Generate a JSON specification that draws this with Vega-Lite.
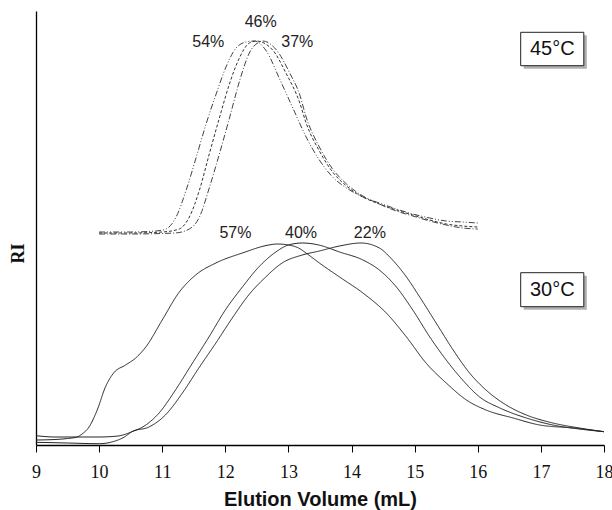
{
  "$schema": "https://vega.github.io/schema/vega-lite/v6.json",
  "width": 568,
  "height": 434,
  "autosize": "none",
  "padding": {"left": 36, "top": 11, "right": 8, "bottom": 65},
  "background": "white",
  "config": {"view": {"stroke": null}},
  "datasets": {
    "curves": [
      {"series": "30°C 57%", "ml": 9.0, "ri": 5},
      {"series": "30°C 57%", "ml": 9.3, "ri": 5.5},
      {"series": "30°C 57%", "ml": 9.5, "ri": 6.5},
      {"series": "30°C 57%", "ml": 9.65, "ri": 8},
      {"series": "30°C 57%", "ml": 9.73, "ri": 11},
      {"series": "30°C 57%", "ml": 9.84, "ri": 18},
      {"series": "30°C 57%", "ml": 9.97, "ri": 35},
      {"series": "30°C 57%", "ml": 10.1, "ri": 58},
      {"series": "30°C 57%", "ml": 10.23, "ri": 72},
      {"series": "30°C 57%", "ml": 10.42, "ri": 80},
      {"series": "30°C 57%", "ml": 10.58, "ri": 87},
      {"series": "30°C 57%", "ml": 10.74, "ri": 98},
      {"series": "30°C 57%", "ml": 11.0, "ri": 125},
      {"series": "30°C 57%", "ml": 11.26, "ri": 152},
      {"series": "30°C 57%", "ml": 11.53, "ri": 170},
      {"series": "30°C 57%", "ml": 11.85, "ri": 182},
      {"series": "30°C 57%", "ml": 12.27, "ri": 192},
      {"series": "30°C 57%", "ml": 12.69, "ri": 200},
      {"series": "30°C 57%", "ml": 12.82, "ri": 201},
      {"series": "30°C 57%", "ml": 13.0, "ri": 200},
      {"series": "30°C 57%", "ml": 13.16, "ri": 197},
      {"series": "30°C 57%", "ml": 13.3, "ri": 191},
      {"series": "30°C 57%", "ml": 13.49, "ri": 182},
      {"series": "30°C 57%", "ml": 13.81, "ri": 168},
      {"series": "30°C 57%", "ml": 14.18, "ri": 152},
      {"series": "30°C 57%", "ml": 14.55, "ri": 132},
      {"series": "30°C 57%", "ml": 14.87, "ri": 108},
      {"series": "30°C 57%", "ml": 15.18, "ri": 82},
      {"series": "30°C 57%", "ml": 15.5, "ri": 62},
      {"series": "30°C 57%", "ml": 15.82, "ri": 45},
      {"series": "30°C 57%", "ml": 16.13, "ri": 35},
      {"series": "30°C 57%", "ml": 16.56, "ri": 27},
      {"series": "30°C 57%", "ml": 16.98, "ri": 20},
      {"series": "30°C 57%", "ml": 17.51, "ri": 17},
      {"series": "30°C 57%", "ml": 18.0, "ri": 13.3},

      {"series": "30°C 40%", "ml": 9.0, "ri": 9.3},
      {"series": "30°C 40%", "ml": 9.3, "ri": 8},
      {"series": "30°C 40%", "ml": 10.0, "ri": 8},
      {"series": "30°C 40%", "ml": 10.3, "ri": 9},
      {"series": "30°C 40%", "ml": 10.52, "ri": 13.3},
      {"series": "30°C 40%", "ml": 10.74, "ri": 20},
      {"series": "30°C 40%", "ml": 10.95, "ri": 32},
      {"series": "30°C 40%", "ml": 11.21, "ri": 55},
      {"series": "30°C 40%", "ml": 11.48, "ri": 82},
      {"series": "30°C 40%", "ml": 11.74, "ri": 108},
      {"series": "30°C 40%", "ml": 12.0, "ri": 135},
      {"series": "30°C 40%", "ml": 12.27, "ri": 158},
      {"series": "30°C 40%", "ml": 12.53, "ri": 178},
      {"series": "30°C 40%", "ml": 12.8, "ri": 193},
      {"series": "30°C 40%", "ml": 13.0, "ri": 200},
      {"series": "30°C 40%", "ml": 13.22, "ri": 202},
      {"series": "30°C 40%", "ml": 13.48, "ri": 200},
      {"series": "30°C 40%", "ml": 13.81, "ri": 193},
      {"series": "30°C 40%", "ml": 14.18, "ri": 185},
      {"series": "30°C 40%", "ml": 14.44, "ri": 175},
      {"series": "30°C 40%", "ml": 14.71, "ri": 158},
      {"series": "30°C 40%", "ml": 14.97, "ri": 135},
      {"series": "30°C 40%", "ml": 15.24, "ri": 108},
      {"series": "30°C 40%", "ml": 15.5, "ri": 85},
      {"series": "30°C 40%", "ml": 15.76, "ri": 65},
      {"series": "30°C 40%", "ml": 16.03, "ri": 48},
      {"series": "30°C 40%", "ml": 16.35, "ri": 37},
      {"series": "30°C 40%", "ml": 16.77, "ri": 27},
      {"series": "30°C 40%", "ml": 17.19, "ri": 20},
      {"series": "30°C 40%", "ml": 17.61, "ri": 16},
      {"series": "30°C 40%", "ml": 18.0, "ri": 13.3},

      {"series": "30°C 22%", "ml": 9.0, "ri": 2.7},
      {"series": "30°C 22%", "ml": 9.5, "ri": 2},
      {"series": "30°C 22%", "ml": 10.0, "ri": 1.3},
      {"series": "30°C 22%", "ml": 10.2, "ri": 3},
      {"series": "30°C 22%", "ml": 10.4, "ri": 8},
      {"series": "30°C 22%", "ml": 10.52, "ri": 13.3},
      {"series": "30°C 22%", "ml": 10.79, "ri": 18},
      {"series": "30°C 22%", "ml": 11.05, "ri": 30},
      {"series": "30°C 22%", "ml": 11.32, "ri": 52},
      {"series": "30°C 22%", "ml": 11.58, "ri": 77},
      {"series": "30°C 22%", "ml": 11.85, "ri": 102},
      {"series": "30°C 22%", "ml": 12.11, "ri": 127},
      {"series": "30°C 22%", "ml": 12.37, "ri": 150},
      {"series": "30°C 22%", "ml": 12.64, "ri": 168},
      {"series": "30°C 22%", "ml": 12.9, "ri": 182},
      {"series": "30°C 22%", "ml": 13.22, "ri": 190},
      {"series": "30°C 22%", "ml": 13.49, "ri": 194},
      {"series": "30°C 22%", "ml": 13.81, "ri": 199},
      {"series": "30°C 22%", "ml": 14.15, "ri": 202},
      {"series": "30°C 22%", "ml": 14.44, "ri": 197},
      {"series": "30°C 22%", "ml": 14.65, "ri": 185},
      {"series": "30°C 22%", "ml": 14.87, "ri": 168},
      {"series": "30°C 22%", "ml": 15.08, "ri": 148},
      {"series": "30°C 22%", "ml": 15.34, "ri": 122},
      {"series": "30°C 22%", "ml": 15.61, "ri": 95},
      {"series": "30°C 22%", "ml": 15.87, "ri": 72},
      {"series": "30°C 22%", "ml": 16.13, "ri": 55},
      {"series": "30°C 22%", "ml": 16.45, "ri": 40},
      {"series": "30°C 22%", "ml": 16.77, "ri": 30},
      {"series": "30°C 22%", "ml": 17.19, "ri": 22},
      {"series": "30°C 22%", "ml": 17.61, "ri": 17},
      {"series": "30°C 22%", "ml": 18.0, "ri": 13.3},

      {"series": "45°C 54%", "ml": 10.0, "ri": 213},
      {"series": "45°C 54%", "ml": 10.5, "ri": 213},
      {"series": "45°C 54%", "ml": 10.9, "ri": 214},
      {"series": "45°C 54%", "ml": 11.06, "ri": 216},
      {"series": "45°C 54%", "ml": 11.22, "ri": 228},
      {"series": "45°C 54%", "ml": 11.38, "ri": 255},
      {"series": "45°C 54%", "ml": 11.54, "ri": 288},
      {"series": "45°C 54%", "ml": 11.7, "ri": 322},
      {"series": "45°C 54%", "ml": 11.86, "ri": 352},
      {"series": "45°C 54%", "ml": 12.01, "ri": 378},
      {"series": "45°C 54%", "ml": 12.17, "ri": 397},
      {"series": "45°C 54%", "ml": 12.33, "ri": 403},
      {"series": "45°C 54%", "ml": 12.46, "ri": 404},
      {"series": "45°C 54%", "ml": 12.65, "ri": 394},
      {"series": "45°C 54%", "ml": 12.86, "ri": 366},
      {"series": "45°C 54%", "ml": 13.07, "ri": 337},
      {"series": "45°C 54%", "ml": 13.28, "ri": 308},
      {"series": "45°C 54%", "ml": 13.49, "ri": 285},
      {"series": "45°C 54%", "ml": 13.7, "ri": 268},
      {"series": "45°C 54%", "ml": 13.92, "ri": 257},
      {"series": "45°C 54%", "ml": 14.18, "ri": 248},
      {"series": "45°C 54%", "ml": 14.44, "ri": 242},
      {"series": "45°C 54%", "ml": 14.71, "ri": 236},
      {"series": "45°C 54%", "ml": 14.97, "ri": 231},
      {"series": "45°C 54%", "ml": 15.24, "ri": 227},
      {"series": "45°C 54%", "ml": 15.5, "ri": 224},
      {"series": "45°C 54%", "ml": 15.76, "ri": 223},
      {"series": "45°C 54%", "ml": 16.0, "ri": 222},

      {"series": "45°C 46%", "ml": 10.0, "ri": 212},
      {"series": "45°C 46%", "ml": 10.5, "ri": 212},
      {"series": "45°C 46%", "ml": 11.0, "ri": 213},
      {"series": "45°C 46%", "ml": 11.27, "ri": 216},
      {"series": "45°C 46%", "ml": 11.43, "ri": 228},
      {"series": "45°C 46%", "ml": 11.59, "ri": 255},
      {"series": "45°C 46%", "ml": 11.75, "ri": 292},
      {"series": "45°C 46%", "ml": 11.91, "ri": 328},
      {"series": "45°C 46%", "ml": 12.07, "ri": 362},
      {"series": "45°C 46%", "ml": 12.23, "ri": 388},
      {"series": "45°C 46%", "ml": 12.38, "ri": 402},
      {"series": "45°C 46%", "ml": 12.49, "ri": 404},
      {"series": "45°C 46%", "ml": 12.75, "ri": 395},
      {"series": "45°C 46%", "ml": 12.96, "ri": 372},
      {"series": "45°C 46%", "ml": 13.18, "ri": 342},
      {"series": "45°C 46%", "ml": 13.28, "ri": 322},
      {"series": "45°C 46%", "ml": 13.49, "ri": 294},
      {"series": "45°C 46%", "ml": 13.7, "ri": 273},
      {"series": "45°C 46%", "ml": 13.92, "ri": 259},
      {"series": "45°C 46%", "ml": 14.18, "ri": 248},
      {"series": "45°C 46%", "ml": 14.44, "ri": 241},
      {"series": "45°C 46%", "ml": 14.71, "ri": 235},
      {"series": "45°C 46%", "ml": 14.97, "ri": 230},
      {"series": "45°C 46%", "ml": 15.24, "ri": 225},
      {"series": "45°C 46%", "ml": 15.5, "ri": 221},
      {"series": "45°C 46%", "ml": 15.76, "ri": 219},
      {"series": "45°C 46%", "ml": 16.0, "ri": 218},

      {"series": "45°C 37%", "ml": 10.0, "ri": 211},
      {"series": "45°C 37%", "ml": 10.5, "ri": 211},
      {"series": "45°C 37%", "ml": 11.2, "ri": 212},
      {"series": "45°C 37%", "ml": 11.43, "ri": 216},
      {"series": "45°C 37%", "ml": 11.59, "ri": 228},
      {"series": "45°C 37%", "ml": 11.75, "ri": 258},
      {"series": "45°C 37%", "ml": 11.91, "ri": 292},
      {"series": "45°C 37%", "ml": 12.07, "ri": 328},
      {"series": "45°C 37%", "ml": 12.23, "ri": 365},
      {"series": "45°C 37%", "ml": 12.38, "ri": 392},
      {"series": "45°C 37%", "ml": 12.54, "ri": 403},
      {"series": "45°C 37%", "ml": 12.59, "ri": 404},
      {"series": "45°C 37%", "ml": 12.81, "ri": 395},
      {"series": "45°C 37%", "ml": 13.02, "ri": 372},
      {"series": "45°C 37%", "ml": 13.18, "ri": 350},
      {"series": "45°C 37%", "ml": 13.28, "ri": 328},
      {"series": "45°C 37%", "ml": 13.49, "ri": 298},
      {"series": "45°C 37%", "ml": 13.7, "ri": 276},
      {"series": "45°C 37%", "ml": 13.92, "ri": 261},
      {"series": "45°C 37%", "ml": 14.18, "ri": 249},
      {"series": "45°C 37%", "ml": 14.44, "ri": 241},
      {"series": "45°C 37%", "ml": 14.71, "ri": 234},
      {"series": "45°C 37%", "ml": 14.97, "ri": 229},
      {"series": "45°C 37%", "ml": 15.24, "ri": 224},
      {"series": "45°C 37%", "ml": 15.5, "ri": 220},
      {"series": "45°C 37%", "ml": 15.76, "ri": 217},
      {"series": "45°C 37%", "ml": 16.0, "ri": 216}
    ],
    "labels": [
      {"label": "57%", "ml": 12.16, "ri": 212},
      {"label": "40%", "ml": 13.2, "ri": 212},
      {"label": "22%", "ml": 14.29, "ri": 212},
      {"label": "54%", "ml": 11.73, "ri": 403},
      {"label": "46%", "ml": 12.56, "ri": 423},
      {"label": "37%", "ml": 13.14, "ri": 403}
    ],
    "boxes": [
      {"label": "45°C", "x1": 16.68, "x2": 17.68, "y1": 379.3, "y2": 412.7, "xc": 17.18, "yc": 396},
      {"label": "30°C", "x1": 16.68, "x2": 17.68, "y1": 138.3, "y2": 172.3, "xc": 17.18, "yc": 155.3}
    ]
  },
  "layer": [
    {
      "data": {"name": "curves"},
      "mark": {"type": "line", "interpolate": "monotone", "strokeWidth": 1},
      "encoding": {
        "x": {
          "field": "ml", "type": "quantitative",
          "scale": {"domain": [9, 18], "nice": false, "zero": false},
          "axis": {
            "title": "Elution Volume (mL)",
            "values": [9, 10, 11, 12, 13, 14, 15, 16, 17, 18],
            "format": "d",
            "grid": false,
            "domainColor": "#000", "domainWidth": 1.3,
            "tickColor": "#000", "tickSize": 7, "tickWidth": 1,
            "labelFont": "Liberation Serif", "labelFontSize": 18, "labelColor": "#111",
            "labelBaseline": "alphabetic", "labelPadding": 25, "labelFlush": false, "labelOverlap": false,
            "titleFont": "Liberation Sans", "titleFontSize": 20, "titleFontWeight": "bold", "titleColor": "#111",
            "titleBaseline": "alphabetic", "titleY": 60
          }
        },
        "y": {
          "field": "ri", "type": "quantitative",
          "scale": {"domain": [0, 434], "nice": false, "zero": false},
          "axis": {
            "title": "RI",
            "grid": false, "ticks": false, "labels": false,
            "domainColor": "#000", "domainWidth": 1.3,
            "titleFont": "Liberation Serif", "titleFontSize": 18, "titleFontWeight": "bold", "titleColor": "#111",
            "titleAngle": -90, "titleX": -18, "titleY": 242, "titleAlign": "center", "titleBaseline": "middle"
          }
        },
        "detail": {"field": "series"},
        "strokeDash": {
          "field": "series", "type": "nominal", "legend": null,
          "scale": {
            "domain": ["30°C 57%", "30°C 40%", "30°C 22%", "45°C 54%", "45°C 46%", "45°C 37%"],
            "range": [[1, 0], [1, 0], [1, 0], [6, 2, 1, 2, 1, 2], [3, 2], [6, 2, 1, 2]]
          }
        },
        "color": {
          "field": "series", "type": "nominal", "legend": null,
          "scale": {
            "domain": ["30°C 57%", "30°C 40%", "30°C 22%", "45°C 54%", "45°C 46%", "45°C 37%"],
            "range": ["#222", "#222", "#222", "#444", "#333", "#444"]
          }
        }
      }
    },
    {
      "data": {"name": "labels"},
      "mark": {"type": "text", "font": "Liberation Sans", "fontSize": 16, "align": "center", "baseline": "middle", "color": "#222"},
      "encoding": {
        "x": {"field": "ml", "type": "quantitative"},
        "y": {"field": "ri", "type": "quantitative"},
        "text": {"field": "label"}
      }
    },
    {
      "data": {"name": "boxes"},
      "mark": {"type": "rect", "fill": "#b0b0b0", "xOffset": 3, "x2Offset": 3, "yOffset": 3, "y2Offset": 3},
      "encoding": {
        "x": {"field": "x1", "type": "quantitative"},
        "x2": {"field": "x2"},
        "y": {"field": "y1", "type": "quantitative"},
        "y2": {"field": "y2"}
      }
    },
    {
      "data": {"name": "boxes"},
      "mark": {"type": "rect", "fill": "white", "stroke": "#222", "strokeWidth": 1},
      "encoding": {
        "x": {"field": "x1", "type": "quantitative"},
        "x2": {"field": "x2"},
        "y": {"field": "y1", "type": "quantitative"},
        "y2": {"field": "y2"}
      }
    },
    {
      "data": {"name": "boxes"},
      "mark": {"type": "text", "font": "Liberation Sans", "fontSize": 20, "align": "center", "baseline": "middle", "color": "#111"},
      "encoding": {
        "x": {"field": "xc", "type": "quantitative"},
        "y": {"field": "yc", "type": "quantitative"},
        "text": {"field": "label"}
      }
    }
  ]
}
